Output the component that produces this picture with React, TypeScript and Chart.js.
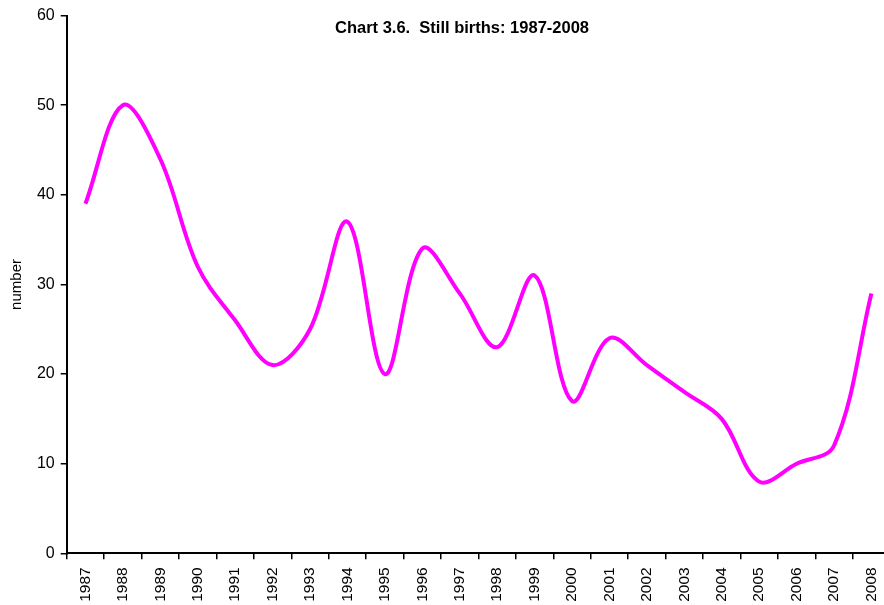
import React, { useEffect, useRef } from "react";
import { Chart, registerables } from "chart.js";

Chart.register(...registerables);

const years = [
  "1987", "1988", "1989", "1990", "1991", "1992", "1993", "1994", "1995", "1996", "1997",
  "1998", "1999", "2000", "2001", "2002", "2003", "2004", "2005", "2006", "2007", "2008",
];
const stillBirths = [39, 50, 44, 32, 26, 21, 25, 37, 20, 34, 29, 23, 31, 17, 24, 21, 18, 15, 8, 10, 12, 29];
const yTicks = [0, 10, 20, 30, 40, 50, 60];
const chartTitle = "Chart 3.6.  Still births: 1987-2008";
const yAxisTitle = "number";

const FONT = "'Liberation Sans', Arial, Helvetica, sans-serif";

const titlePlugin = {
  id: "customTitle",
  afterDraw(chart: any) {
    const ctx = chart.ctx;
    ctx.save();
    ctx.font = `bold 16.5px ${FONT}`;
    ctx.fillStyle = "#000";
    ctx.textAlign = "center";
    ctx.textBaseline = "middle";
    ctx.fillText(chartTitle, 462, 28);
    ctx.restore();
  },
};

export default function App() {
  const ref = useRef<HTMLCanvasElement | null>(null);

  useEffect(() => {
    if (!ref.current) return;
    const chart = new Chart(ref.current, {
      type: "line",
      data: {
        labels: years,
        datasets: [
          {
            data: stillBirths,
            borderColor: "#FF00FF",
            borderWidth: 4,
            pointRadius: 0,
            tension: 0.35,
            fill: false,
          },
        ],
      },
      plugins: [titlePlugin],
      options: {
        animation: false,
        responsive: false,
        devicePixelRatio: 1,
        layout: { padding: { top: 15, left: 0, right: 0, bottom: 0 } },
        plugins: {
          legend: { display: false },
          title: { display: false },
          tooltip: { enabled: false },
        },
        scales: {
          x: {
            type: "category",
            offset: true,
            grid: {
              offset: true,
              drawOnChartArea: false,
              drawTicks: true,
              tickLength: 6,
              color: "#000",
              lineWidth: 1.5,
            },
            border: { color: "#000", width: 2 },
            ticks: {
              autoSkip: false,
              maxRotation: 90,
              minRotation: 90,
              padding: 8,
              color: "#000",
              font: { family: FONT, size: 15.5 },
            },
            afterFit: (s: any) => {
              s.height = 51.7;
            },
          },
          y: {
            min: 0,
            max: 60,
            afterBuildTicks: (s: any) => {
              s.ticks = yTicks.map((v) => ({ value: v }));
            },
            grid: {
              drawOnChartArea: false,
              drawTicks: true,
              tickLength: 6,
              color: "#000",
              lineWidth: 1.5,
            },
            border: { color: "#000", width: 2 },
            ticks: {
              padding: 6,
              color: "#000",
              font: { family: FONT, size: 16 },
            },
            title: {
              display: true,
              text: yAxisTitle,
              color: "#000",
              font: { family: FONT, size: 15 },
              padding: { top: 8, bottom: 0 },
            },
            afterFit: (s: any) => {
              s.width = 66.7;
            },
          },
        },
      },
    });
    return () => chart.destroy();
  }, []);

  return (
    <div
      style={{
        position: "fixed",
        left: 0,
        top: 0,
        width: 884,
        height: 605,
        overflow: "hidden",
        background: "#fff",
      }}
    >
      <canvas ref={ref} width={898} height={605} style={{ display: "block", width: 898, height: 605 }} />
    </div>
  );
}
